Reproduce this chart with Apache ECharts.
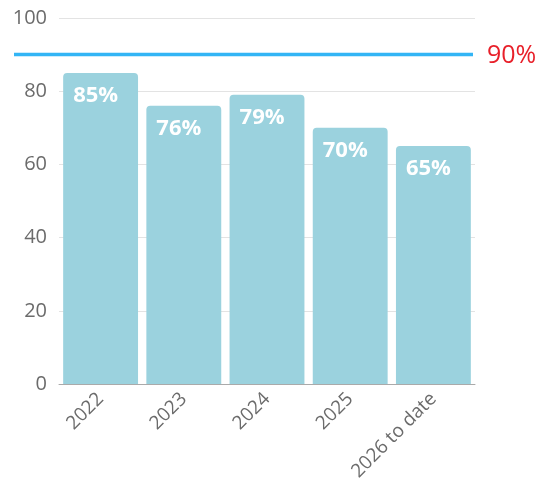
<!DOCTYPE html>
<html>
<head>
<meta charset="utf-8">
<script src="https://cdn.jsdelivr.net/npm/echarts@6/dist/echarts.min.js"></script>
<style>
  html, body { margin: 0; padding: 0; background: #fff; }
  #chart { width: 542px; height: 491px; }
</style>
</head>
<body>
<div id="chart"></div>
<script>
// Yearly rate against a 90% target
const categories = ['2022', '2023', '2024', '2025', '2026 to date'];
const rates = [85, 76, 79, 70, 65];
const target = 90;
const yTicks = [0, 20, 40, 60, 80, 100];

const chart = echarts.init(document.getElementById('chart'), null, { renderer: 'canvas' });

const gridLeft = 59;
const gridRight = 67;

chart.setOption({
  animation: false,
  grid: { left: gridLeft, right: gridRight, top: 18, bottom: 107 },
  xAxis: {
    type: 'category',
    data: categories,
    axisTick: { show: false },
    axisLine: { lineStyle: { color: '#aaaaaa', width: 1 } },
    axisLabel: {
      rotate: 45,
      color: '#6b6b6b',
      fontFamily: 'Open Sans',
      fontSize: 19,
      margin: 12,
      interval: 0
    }
  },
  yAxis: {
    type: 'value',
    min: yTicks[0],
    max: yTicks[yTicks.length - 1],
    interval: 20,
    axisLine: { show: false },
    axisTick: { show: false },
    splitLine: { lineStyle: { color: '#e3e3e3', width: 1 } },
    axisLabel: {
      color: '#6b6b6b',
      fontFamily: 'Open Sans',
      fontSize: 20,
      margin: 12
    }
  },
  series: [{
    type: 'bar',
    data: rates,
    barCategoryGap: '10%',
    itemStyle: { color: '#9bd2de', borderRadius: [4, 4, 0, 0] },
    label: {
      show: true,
      position: 'insideTopLeft',
      distance: 8,
      offset: [2, 4],
      formatter: p => p.value + '%',
      color: '#ffffff',
      fontFamily: 'Open Sans',
      fontWeight: 'bold',
      fontSize: 22
    }
  }]
});

// Target line reaches past the plot's left edge, so it is laid out in pixels from the y scale
const ty = chart.convertToPixel({ yAxisIndex: 0 }, target);
const plotRight = 542 - gridRight;
chart.setOption({
  graphic: [
    {
      type: 'line',
      shape: { x1: 14, y1: ty, x2: plotRight - 2, y2: ty },
      style: { stroke: '#33b5f5', lineWidth: 3.5 },
      z: 100
    },
    {
      type: 'text',
      x: 487,
      y: ty + 1,
      style: {
        text: target + '%',
        fill: '#e8202a',
        fontFamily: 'Open Sans',
        fontSize: 25,
        verticalAlign: 'middle',
        align: 'left'
      },
      z: 100
    }
  ]
});
</script>
</body>
</html>
